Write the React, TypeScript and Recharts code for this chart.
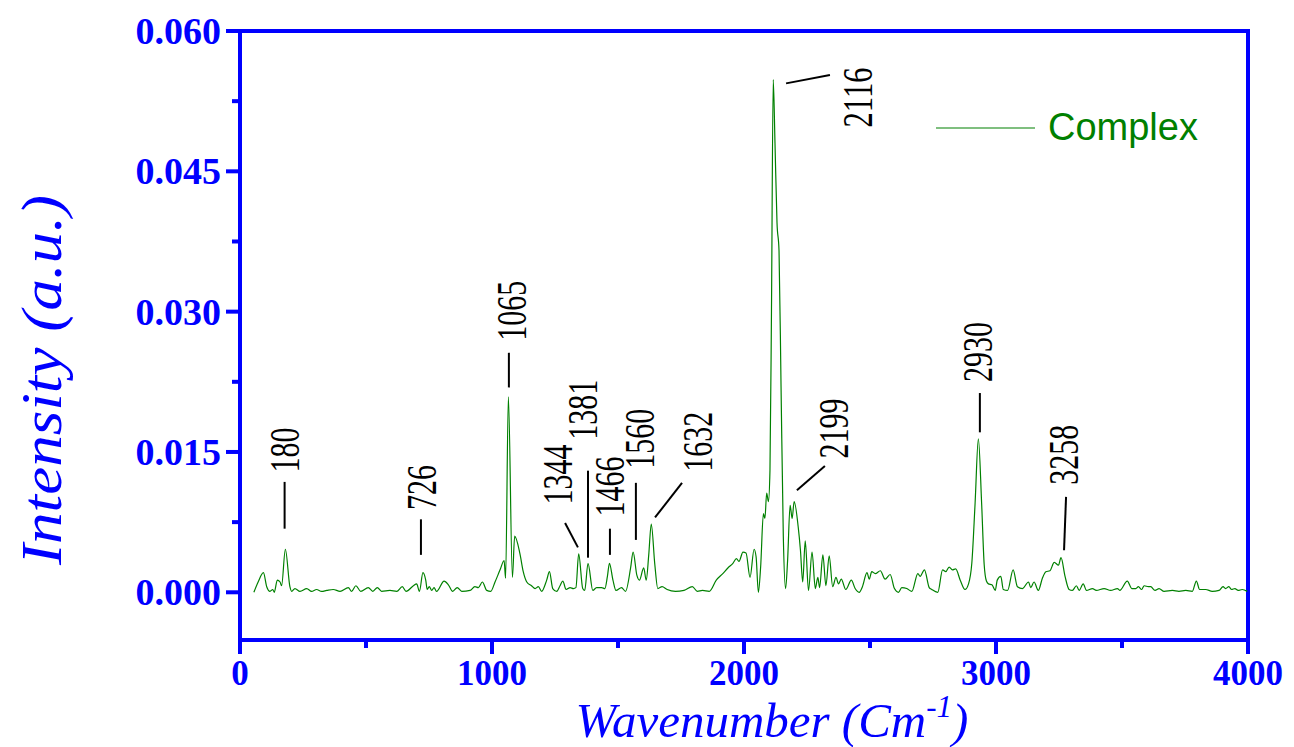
import React from "react";
import {
  LineChart,
  Line,
  XAxis,
  YAxis,
  ReferenceArea,
  ReferenceLine,
  ReferenceDot,
  Customized,
} from "recharts";

// spectrum (cm-1 / a.u.)
const WAVENUMBER = [
  55, 72, 93, 106, 119, 130, 136, 148, 159, 165, 180, 198, 205, 218, 238, 265, 284, 304, 324, 344,
  370, 397, 430, 443, 460, 479, 509, 527, 545, 562, 595, 622, 644, 659, 688, 701, 712, 726, 737, 743,
  751, 761, 770, 780, 810, 827, 844, 862, 880, 913, 932, 946, 962, 979, 995, 1012, 1032, 1048, 1054, 1065,
  1081, 1090, 1111, 1124, 1138, 1157, 1171, 1184, 1197, 1217, 1228, 1241, 1257, 1270, 1281, 1294, 1310, 1323, 1333, 1344,
  1360, 1368, 1381, 1400, 1415, 1435, 1448, 1458, 1466, 1480, 1492, 1514, 1530, 1550, 1560, 1575, 1585, 1602, 1612, 1622,
  1632, 1646, 1658, 1675, 1695, 1728, 1762, 1795, 1815, 1835, 1862, 1890, 1916, 1936, 1956, 1970, 1980, 1996, 2008, 2024,
  2040, 2048, 2057, 2066, 2077, 2083, 2090, 2097, 2103, 2109, 2116, 2123, 2131, 2139, 2147, 2156, 2165, 2173, 2183, 2191,
  2199, 2215, 2224, 2233, 2243, 2256, 2270, 2283, 2293, 2300, 2313, 2325, 2338, 2352, 2365, 2375, 2386, 2404, 2426, 2441,
  2457, 2470, 2488, 2497, 2507, 2521, 2541, 2560, 2580, 2597, 2613, 2626, 2646, 2666, 2690, 2699, 2716, 2735, 2745, 2769,
  2788, 2801, 2814, 2827, 2840, 2858, 2877, 2891, 2904, 2917, 2930, 2943, 2953, 2962, 2970, 2984, 2997, 3005, 3019, 3029,
  3046, 3068, 3085, 3105, 3129, 3138, 3151, 3168, 3184, 3198, 3214, 3231, 3248, 3258, 3274, 3290, 3303, 3319, 3330, 3346,
  3359, 3383, 3398, 3429, 3455, 3482, 3491, 3521, 3539, 3555, 3565, 3578, 3588, 3605, 3614, 3631, 3647, 3667, 3700, 3726,
  3753, 3779, 3795, 3808, 3832, 3858, 3885, 3901, 3911, 3924, 3935, 3948, 3961, 3977, 3997,
];

const INTENSITY = [
  0.0, 0.0011, 0.0021, 0.0006, 0.0001, 0.0003, 0.0, 0.0013, 0.0011, 0.0007, 0.0046, 0.0006, 0.0001, 0.0004, 0.0001, 0.0004, 0.0001, 0.0003, 0.0001, 0.0002,
  0.0003, 0.0001, 0.0005, 0.0001, 0.0007, 0.0001, 0.0005, 0.0001, 0.0005, 0.0001, 0.0002, 0.0001, 0.0006, 0.0001, 0.0007, 0.0009, 0.0001, 0.0021, 0.0013, 0.0003,
  0.0006, 0.0002, 0.0005, 0.0001, 0.0012, 0.0008, 0.0001, 0.0005, 0.0001, 0.0002, 0.0006, 0.0005, 0.0011, 0.0002, 0.0001, 0.0011, 0.0024, 0.0034, 0.0015, 0.0209,
  0.0016, 0.006, 0.0041, 0.0022, 0.0011, 0.0007, 0.0004, 0.0006, 0.0001, 0.0013, 0.0022, 0.0004, 0.0001, 0.0007, 0.0012, 0.0003, 0.0005, 0.0004, 0.0005, 0.0041,
  0.0004, 0.0002, 0.0031, 0.0002, 0.0005, 0.0005, 0.0004, 0.0017, 0.0031, 0.0013, 0.0002, 0.0005, 0.0001, 0.0026, 0.0043, 0.0018, 0.0013, 0.0026, 0.0013, 0.004,
  0.0073, 0.003, 0.0004, 0.0006, 0.0003, 0.0001, 0.0002, 0.0006, 0.0001, 0.0002, 0.0001, 0.0013, 0.002, 0.0026, 0.0031, 0.0036, 0.0033, 0.0043, 0.0042, 0.0016,
  0.0046, 0.0038, 0.0, 0.0027, 0.0084, 0.0079, 0.0106, 0.0097, 0.013, 0.03, 0.0548, 0.048, 0.0395, 0.0365, 0.022, 0.006, 0.0004, 0.0034, 0.0093, 0.0079,
  0.0097, 0.007, 0.0045, 0.0011, 0.0055, 0.0002, 0.0043, 0.0004, 0.0016, 0.0005, 0.004, 0.0007, 0.0039, 0.0006, 0.0016, 0.0009, 0.0014, 0.0003, 0.0013, 0.0004,
  0.0, 0.0006, 0.0021, 0.0014, 0.0022, 0.002, 0.0023, 0.0014, 0.0019, 0.0004, 0.0, 0.0005, 0.0004, 0.0001, 0.002, 0.0017, 0.0024, 0.0005, 0.0003, 0.0,
  0.0024, 0.0022, 0.0027, 0.0024, 0.0025, 0.0013, 0.0003, 0.0009, 0.0031, 0.0095, 0.0164, 0.0095, 0.003, 0.0012, 0.0009, 0.0008, 0.0002, 0.0013, 0.0017, 0.0003,
  0.0002, 0.0024, 0.0006, 0.0004, 0.0011, 0.0005, 0.0011, 0.0002, 0.0015, 0.0022, 0.0023, 0.0032, 0.0029, 0.0037, 0.0017, 0.0003, 0.0002, 0.0007, 0.0002, 0.0009,
  0.0002, 0.0004, 0.0002, 0.0004, 0.0002, 0.0004, 0.0002, 0.0012, 0.0004, 0.0004, 0.0006, 0.0003, 0.0007, 0.0006, 0.0006, 0.0002, 0.0004, 0.0001, 0.0002, 0.0001,
  0.0002, 0.0001, 0.0012, 0.0003, 0.0003, 0.0001, 0.0002, 0.0006, 0.0004, 0.0006, 0.0003, 0.0004, 0.0002, 0.0003, 0.0001,
];

const X_TICKS = [0, 500, 1000, 1500, 2000, 2500, 3000, 3500, 4000];
const Y_TICKS = [0, 0.0075, 0.015, 0.0225, 0.03, 0.0375, 0.045, 0.0525, 0.06];

// peak labels: text anchor + leader line, in data units
const PEAK_NAMES = ["180", "726", "1065", "1344", "1381", "1466", "1560", "1632", "2116", "2199", "2930", "3258"];
const PEAK_TEXT_AT = [
  [179, 0.0152], [722, 0.0112], [1079, 0.0301], [1262, 0.0126], [1361, 0.0195], [1468, 0.0113],
  [1587, 0.0164], [1817, 0.0161], [2452, 0.0529], [2357, 0.0175], [2928, 0.0257], [3270, 0.0147],
];
const PEAK_LEADERS = [
  [177, 0.0118, 177, 0.0068], [718, 0.0078, 718, 0.004], [1067, 0.0256, 1067, 0.0219],
  [1290, 0.0074, 1341, 0.0048], [1381, 0.013, 1381, 0.0037], [1468, 0.0068, 1468, 0.004],
  [1571, 0.0117, 1571, 0.0056], [1754, 0.0117, 1647, 0.008], [2167, 0.0544, 2341, 0.0553],
  [2210, 0.0109, 2321, 0.0135], [2936, 0.0213, 2936, 0.0171], [3278, 0.0102, 3270, 0.0045],
];

const data = WAVENUMBER.map((x, i) => ({ x, y: INTENSITY[i] }));

const BLUE = "#0000ff";
const GREEN = "#008000";
const SERIF = '"Liberation Serif", "Times New Roman", serif';
const PLOT_LEFT = 232;
const PLOT_BOTTOM = 632;

const YTick = (props: any) => {
  const { y, payload } = props;
  const major = Math.round(payload.value / 0.0075) % 2 === 0;
  return (
    <g>
      <line x1={PLOT_LEFT - (major ? 14 : 8)} x2={PLOT_LEFT} y1={y} y2={y} stroke={BLUE} strokeWidth={4} />
      {major && (
        <text x={PLOT_LEFT - 19} y={y + 13} textAnchor="end" fill={BLUE} fontFamily={SERIF} fontWeight="bold" fontSize={38}>
          {payload.value.toFixed(3)}
        </text>
      )}
    </g>
  );
};

const XTick = (props: any) => {
  const { x, payload } = props;
  const major = payload.value % 1000 === 0;
  return (
    <g>
      <line x1={x} x2={x} y1={PLOT_BOTTOM} y2={PLOT_BOTTOM + (major ? 14 : 8)} stroke={BLUE} strokeWidth={4} />
      {major && (
        <text x={x} y={PLOT_BOTTOM + 44.5} textAnchor="middle" fill={BLUE} fontFamily={SERIF} fontWeight="bold" fontSize={35}>
          {payload.value}
        </text>
      )}
    </g>
  );
};

const PeakText = (props: any) => {
  const { viewBox, text } = props;
  if (!viewBox) return null;
  const cx = viewBox.x + (viewBox.width || 0) / 2;
  const cy = viewBox.y + (viewBox.height || 0) / 2;
  return (
    <text
      x={cx}
      y={cy}
      transform={`rotate(-90 ${cx} ${cy})`}
      textAnchor="middle"
      dominantBaseline="central"
      fontFamily={SERIF}
      fontSize={42}
      textLength={text.length * 15}
      lengthAdjust="spacingAndGlyphs"
      fill="#000"
    >
      {text}
    </text>
  );
};

const Decorations = () => (
  <g>
    <text
      x={34}
      y={372}
      transform="rotate(-90 34 372)"
      textAnchor="middle"
      dominantBaseline="central"
      fontFamily={SERIF}
      fontStyle="italic"
      fontSize={56}
      textLength={370}
      lengthAdjust="spacingAndGlyphs"
      fill={BLUE}
    >
      Intensity (a.u.)
    </text>
    <text x={764} y={728.5} textAnchor="middle" fontFamily={SERIF} fontStyle="italic" fontSize={49} fill={BLUE}>
      Wavenumber (Cm
      <tspan fontSize={31} dy={-20}>-1</tspan>
      <tspan dy={20}>)</tspan>
    </text>
    <line x1={928} x2={1027} y1={120} y2={120} stroke={GREEN} strokeWidth={1.2} />
    <text x={1040} y={132} fontFamily='"Liberation Sans", Arial, sans-serif' fontSize={38} fill={GREEN}>
      Complex
    </text>
  </g>
);

export default function App() {
  return (
    <LineChart
      width={1286}
      height={739}
      data={data}
      margin={{ top: 23, right: 46, bottom: 47, left: 132 }}
    >
      <XAxis
        dataKey="x"
        type="number"
        domain={[0, 4000]}
        ticks={X_TICKS}
        allowDataOverflow
        height={60}
        axisLine={{ stroke: BLUE, strokeWidth: 4 }}
        tickLine={false}
        tick={<XTick />}
        interval={0}
      />
      <YAxis
        type="number"
        domain={[-0.0051, 0.06]}
        ticks={Y_TICKS}
        allowDataOverflow
        width={100}
        axisLine={{ stroke: BLUE, strokeWidth: 4 }}
        tickLine={false}
        tick={<YTick />}
        interval={0}
      />
      <Line
        type="monotone"
        dataKey="y"
        stroke={GREEN}
        strokeWidth={1.2}
        dot={false}
        isAnimationActive={false}
      />
      {PEAK_LEADERS.map((s, i) => (
        <ReferenceLine
          key={`l${i}`}
          segment={[{ x: s[0], y: s[1] }, { x: s[2], y: s[3] }]}
          stroke="#000"
          strokeWidth={2}
        />
      ))}
      {PEAK_TEXT_AT.map((p, i) => (
        <ReferenceDot
          key={`t${i}`}
          x={p[0]}
          y={p[1]}
          r={1}
          fill="none"
          stroke="none"
          label={<PeakText text={PEAK_NAMES[i]} />}
        />
      ))}
      <ReferenceArea x1={0} x2={4000} y1={-0.0051} y2={0.06} fill="none" stroke={BLUE} strokeWidth={4} />
      <Customized component={<Decorations />} />
    </LineChart>
  );
}
